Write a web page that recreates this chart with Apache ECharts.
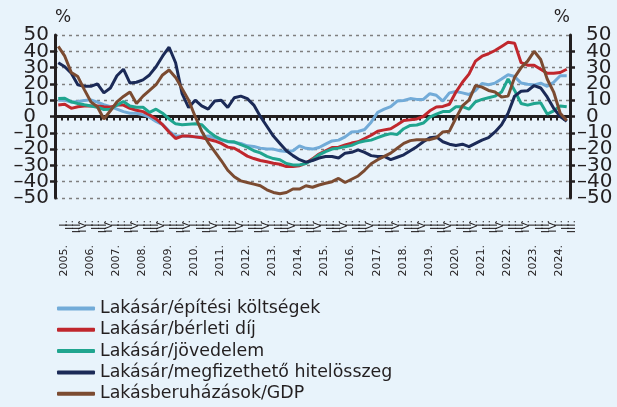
<!DOCTYPE html>
<html>
<head>
<meta charset="utf-8">
<script src="https://cdn.jsdelivr.net/npm/echarts@6/dist/echarts.min.js"></script>
<style>
  html, body { margin: 0; padding: 0; background: #e8f3fb; }
  #chart { width: 617px; height: 407px; }
</style>
</head>
<body>
<div id="chart"></div>
<script>
// negyedéves adatok, 2005. I. - 2024. III.
const years = ['2005.', '2006.', '2007.', '2008.', '2009.', '2010.', '2011.', '2012.', '2013.', '2014.',
  '2015.', '2016.', '2017.', '2018.', '2019.', '2020.', '2021.', '2022.', '2023.', '2024.'];
const quarters = ['I.', 'II.', 'III.', 'IV.'];
const yTicks = { min: -50, max: 50, step: 10 };

const epitesi = [10, 10, 8.8, 9.2, 9.8, 10.2, 8.8, 7.2, 6, 4.5, 3, 2, 2, 1, -0.4, -3, -5, -9, -12, -12,
  -12.3, -12.5, -12.5, -12, -13, -14.5, -15.5, -16, -16.5, -18, -18.4, -19.4, -20, -20, -21, -21.5, -21, -18, -19.5, -20,
  -19, -17, -15, -14.5, -12.5, -9.5, -9.2, -8, -3.5, 2.5, 4.5, 6, 9.5, 9.8, 11, 10.5, 10.5, 14, 13, 9.5,
  14.5, 15.3, 14.5, 13.5, 16, 20.3, 19.5, 20.5, 23, 25.6, 24.5, 20.5, 19.8, 19.4, 20.5, 18.5, 21, 25, 25];
const berleti = [7, 7.5, 5, 6, 6.5, 6.5, 6.5, 6, 5.7, 7, 7, 5, 3.8, 3, 1, -1.5, -5, -9.5, -13.5, -12,
  -12, -12.5, -13, -14, -15, -16.5, -18.8, -19.5, -21.8, -24.3, -25.8, -27, -27.8, -28.7, -29.3, -30.7, -30.7, -30.2, -28.6, -26,
  -23, -21, -19, -18.8, -17.5, -16.3, -15.5, -13.5, -11.5, -9, -8.2, -7.5, -5, -2.4, -2, -1.5, 0, 3.5, 5.8, 6.2,
  7.5, 15, 21, 26, 34, 37, 38.5, 40.5, 43, 45.5, 45, 33, 31.5, 31.5, 29, 26.5, 26.5, 27, 29];
const jovedelem = [11, 11.2, 9, 8, 7.2, 6.5, 5.7, 4.3, 4.5, 7, 9.2, 6.5, 5.7, 5.7, 2.5, 4.5, 2, -1.5, -4.5, -5,
  -4.7, -4.5, -5, -9, -12, -14, -15.3, -15.5, -17.3, -18.8, -21, -22.3, -24.5, -25.8, -26.5, -28.8, -29.7, -29.7, -28.8, -26.5,
  -23.5, -21.5, -20, -19.4, -18.5, -17.7, -16, -15, -14.5, -13, -11.5, -10.5, -11, -7.5, -5.5, -5.2, -4, -0.4, 1.5, 3,
  3, 6, 6, 4.5, 9, 10.5, 11.5, 12.5, 15, 23, 16, 8, 7, 8, 8.5, 1.5, 3.5, 6.5, 6];
const hitel = [33, 30.5, 26.5, 19.5, 18.5, 18.5, 20, 14.5, 17.5, 25, 29, 20.5, 21, 22.5, 25.5, 30.5, 37, 42.5, 33, 14,
  5.5, 10, 6.5, 4.5, 9.5, 10, 5.5, 11.5, 12.5, 11, 7, 0, -6, -12, -16.5, -21, -24, -26.5, -28, -27,
  -25.5, -24.5, -24.5, -25.5, -22.5, -22, -20.5, -22, -24, -24.5, -24.5, -26.5, -25, -23.5, -21, -18.5, -15.5, -13, -12.5, -15.5,
  -17, -17.8, -17, -18.5, -16.5, -14.5, -13, -9.5, -5, 2, 12.5, 15.5, 15.8, 19, 17.5, 12, 5, 0, -3];
const gdp = [43, 37, 27, 24.5, 16.5, 9, 6, -1.5, 3.5, 9, 12.3, 15, 8, 12.5, 16, 19.5, 25.5, 28.5, 24, 17,
  10, 0, -9, -16, -21.5, -27, -33, -37, -39.5, -40.5, -41.5, -42.5, -45, -46.6, -47.4, -46.6, -44.5, -44.5, -42.5, -43.4,
  -42, -41, -40, -38, -40.5, -38.5, -36.5, -33, -29, -26.5, -24.5, -22.5, -19.5, -16.5, -14.8, -14.3, -14.3, -14.2, -13, -9.5,
  -9, -1, 6.5, 10, 19, 18, 16, 15, 12, 12.5, 24, 30, 34, 40, 35, 23, 15, 2, -2.5];

const seriesNames = ['Lakásár/építési költségek', 'Lakásár/bérleti díj', 'Lakásár/jövedelem',
  'Lakásár/megfizethető hitelösszeg', 'Lakásberuházások/GDP'];
const seriesColors = ['#72abd8', '#c0272d', '#20a58f', '#1b2a57', '#7b4b31'];
const seriesData = [epitesi, berleti, jovedelem, hitel, gdp];

const categories = [];
for (let i = 0; i < epitesi.length; i++) {
  categories.push(years[Math.floor(i / 4)] + ' ' + quarters[i % 4]);
}

const ink = '#231f20';
const font = 'DejaVu Sans';

const chart = echarts.init(document.getElementById('chart'));

const tickText = { color: ink, fontSize: 20, fontFamily: font };

function fmtLeft(v) {
  return v === 0 ? '{z|0}' : '{a|' + (v < 0 ? '–' + Math.abs(v) : v) + '}';
}
function fmtRight(v) {
  return v < 0 ? '{a|–' + Math.abs(v) + '}' : '{p|' + v + '}';
}

// pos: left/right; ends: the extra axis that only carries the -50 / 50 labels
// (the tight labels would otherwise be dropped next to the min/max ones)
function yAxisFor(pos, ends) {
  const left = pos === 'left';
  return {
    type: 'value',
    position: pos,
    min: yTicks.min,
    max: yTicks.max,
    interval: ends ? (yTicks.max - yTicks.min) : yTicks.step,
    name: ends ? '' : '%',
    nameLocation: 'end',
    nameGap: 9,
    nameTextStyle: { color: ink, fontSize: 17, fontFamily: font, align: left ? 'left' : 'right' },
    axisLine: { show: !ends, onZero: false, lineStyle: { color: ink, width: 3 } },
    axisTick: { show: !ends, length: 5, lineStyle: { color: ink, width: 2.5 } },
    axisLabel: {
      color: ink, fontSize: 20, fontFamily: font,
      margin: left ? 6 : 7,
      align: left ? 'right' : 'left',
      hideOverlap: false,
      showMinLabel: ends ? true : false,
      showMaxLabel: ends ? true : false,
      formatter: left ? fmtLeft : fmtRight,
      rich: {
        a: tickText,
        z: Object.assign({}, tickText, { padding: [0, 13, 0, 0] }),
        p: Object.assign({}, tickText, { padding: [0, 0, 0, 9] })
      }
    },
    splitLine: {
      show: left && !ends,
      lineStyle: { color: '#7f7f7f', width: 1.3, type: [3, 4] }
    }
  };
}

const option = {
  backgroundColor: '#e8f3fb',
  animation: false,
  textStyle: { fontFamily: font },
  grid: { left: 55, right: 47, top: 35, bottom: 209 },
  legend: {
    orient: 'vertical',
    left: 57,
    top: 300,
    padding: 0,
    icon: 'roundRect',
    itemWidth: 38,
    itemHeight: 4,
    itemGap: 4.3,
    textStyle: { color: ink, fontSize: 17.4, fontFamily: font },
    data: seriesNames
  },
  xAxis: [
    {
      type: 'category',
      data: categories,
      boundaryGap: true,
      axisLine: { onZero: true, lineStyle: { color: ink, width: 3 } },
      axisTick: { show: true, interval: 0, length: 4, lineStyle: { color: ink, width: 2 } },
      axisLabel: { show: false },
      splitLine: { show: false }
    },
    {
      type: 'category',
      data: categories,
      position: 'bottom',
      boundaryGap: true,
      axisLine: { show: false, onZero: false },
      axisTick: { show: false },
      axisLabel: {
        interval: 0, rotate: 90, margin: 22, fontSize: 11, color: ink, fontFamily: font,
        verticalAlign: 'top',
        formatter: (v, i) => quarters[i % 4]
      }
    },
    {
      type: 'category',
      data: categories,
      position: 'bottom',
      boundaryGap: true,
      axisLine: { show: false, onZero: false },
      axisTick: { show: false },
      axisLabel: {
        interval: (i) => i % 4 === 0, rotate: 90, margin: 47, fontSize: 11, color: ink, fontFamily: font,
        verticalAlign: 'top',
        formatter: (v, i) => years[Math.floor(i / 4)]
      }
    }
  ],
  yAxis: [yAxisFor('left', false), yAxisFor('right', false), yAxisFor('left', true), yAxisFor('right', true)],
  series: seriesNames.map((name, k) => ({
    name: name,
    type: 'line',
    xAxisIndex: 0,
    yAxisIndex: 0,
    data: seriesData[k],
    showSymbol: false,
    symbol: 'none',
    itemStyle: { color: seriesColors[k] },
    lineStyle: { color: seriesColors[k], width: 3 }
  }))
};

chart.setOption(option);
</script>
</body>
</html>
